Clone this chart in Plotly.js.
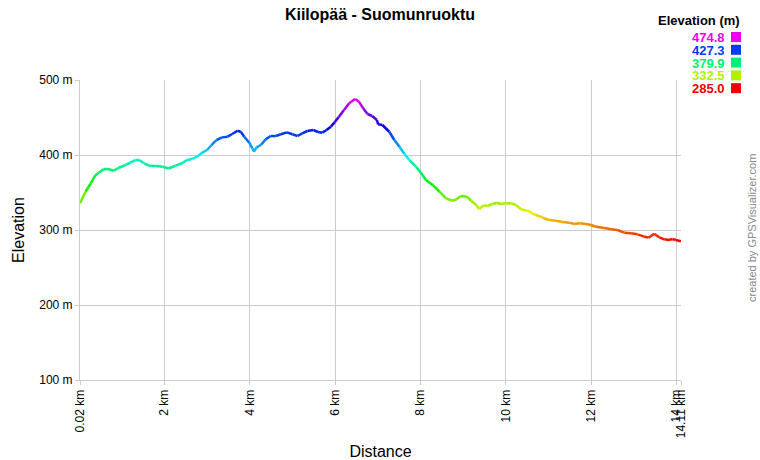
<!DOCTYPE html>
<html>
<head>
<meta charset="utf-8">
<script src="https://cdn.plot.ly/plotly-3.0.1.min.js"></script>
<style>html,body{margin:0;padding:0;background:#fff;}#chart{width:760px;height:460px;}</style>
</head>
<body>
<div id="chart"></div>
<script>
var distanceKm = [
  0.02, 0.15, 0.27, 0.38, 0.46, 0.58, 0.70, 0.81, 0.93, 1.09,
  1.20, 1.32, 1.41, 1.52, 1.63, 1.79, 1.96, 2.10, 2.26, 2.41,
  2.53, 2.65, 2.77, 2.88, 3.00, 3.10, 3.22, 3.35, 3.48, 3.59,
  3.71, 3.79, 3.87, 3.99, 4.06, 4.10, 4.16, 4.26, 4.37, 4.49,
  4.61, 4.73, 4.87, 5.00, 5.12, 5.23, 5.35, 5.49, 5.60, 5.70,
  5.80, 5.90, 5.99, 6.09, 6.21, 6.33, 6.47, 6.56, 6.66, 6.76,
  6.87, 6.98, 7.01, 7.11, 7.27, 7.39, 7.51, 7.62, 7.74, 7.90,
  8.02, 8.13, 8.29, 8.45, 8.60, 8.76, 8.85, 8.95, 9.09, 9.19,
  9.31, 9.38, 9.48, 9.58, 9.69, 9.79, 9.89, 10.01, 10.13, 10.24,
  10.36, 10.51, 10.66, 10.71, 10.87, 11.02, 11.18, 11.33, 11.49, 11.61,
  11.73, 11.88, 12.00, 12.12, 12.31, 12.47, 12.62, 12.78, 12.94, 13.09,
  13.25, 13.35, 13.48, 13.60, 13.72, 13.83, 13.91, 13.99, 14.11
];
var elevationM = [
  335.6, 351.0, 362.0, 373.0, 376.4, 381.3, 381.0, 379.0, 383.0, 386.7,
  389.8, 393.3, 393.3, 389.0, 385.8, 385.3, 384.4, 382.0, 385.8, 389.0,
  393.3, 394.7, 397.8, 403.0, 406.7, 413.0, 420.0, 423.5, 424.4, 428.0,
  432.4, 431.0, 424.4, 416.4, 408.9, 404.4, 410.2, 413.3, 420.9, 425.3,
  425.3, 427.6, 430.2, 427.6, 425.3, 428.9, 432.0, 433.3, 430.7, 429.8,
  433.3, 437.8, 443.6, 451.1, 460.0, 468.9, 474.8, 471.1, 462.2, 454.7,
  452.0, 446.7, 440.9, 440.0, 431.0, 420.0, 411.0, 402.0, 393.3, 384.4,
  375.6, 366.7, 360.0, 351.0, 342.2, 339.0, 341.0, 345.3, 344.4, 339.0,
  333.3, 328.0, 332.9, 332.0, 334.7, 336.4, 334.7, 335.6, 335.6, 333.3,
  327.6, 325.8, 321.0, 320.0, 316.4, 313.3, 312.4, 310.7, 309.8, 308.0,
  309.0, 308.0, 306.7, 304.4, 302.7, 300.9, 300.0, 296.4, 295.6, 294.2,
  291.1, 289.8, 295.1, 290.2, 287.6, 286.7, 288.0, 286.7, 285.0
];

// Axis ticks
var xTickVals = [0.02, 2, 4, 6, 8, 10, 12, 14, 14.11];
var xTickText = ["0.02 km", "2 km", "4 km", "6 km", "8 km", "10 km", "12 km", "14 km", "14.11 km"];
var yTickVals = [100, 200, 300, 400, 500];
var yTickText = ["100 m", "200 m", "300 m", "400 m", "500 m"];

// Colour legend
var legendValues = ["474.8", "427.3", "379.9", "332.5", "285.0"];
var elevMin = 285.0, elevMax = 474.8;

function colorFor(e) {
  var t = (e - elevMin) / (elevMax - elevMin);
  t = Math.max(0, Math.min(1, t));
  var h = 300 * t;
  return 'hsl(' + h.toFixed(1) + ',100%,47%)';
}

var traces = [];
for (var i = 0; i < distanceKm.length - 1; i++) {
  var avg = (elevationM[i] + elevationM[i + 1]) / 2;
  traces.push({
    type: 'scatter', mode: 'lines',
    x: [distanceKm[i], distanceKm[i + 1]],
    y: [elevationM[i], elevationM[i + 1]],
    line: {color: colorFor(avg), width: 2.5},
    hoverinfo: 'skip', showlegend: false
  });
}

var fontFam = '"Liberation Sans", Arial, Helvetica, sans-serif';
var W = 760, H = 460, L = 80, R = 79, T = 80, B = 80;
var pw = W - L - R, ph = H - T - B;
function px2x(p) { return (p - L) / pw; }
function py2y(p) { return 1 - (p - T) / ph; }

var annotations = [
  {text: '<b>Elevation (m)</b>', xref: 'paper', yref: 'paper', x: px2x(741), y: py2y(21),
   xanchor: 'right', yanchor: 'middle', showarrow: false, borderpad: 0,
   font: {family: fontFam, size: 13, color: '#000'}},
  {text: 'created by GPSVisualizer.com', xref: 'paper', yref: 'paper', x: px2x(752), y: py2y(228),
   xanchor: 'center', yanchor: 'middle', textangle: -90, showarrow: false,
   font: {family: fontFam, size: 11, color: '#888888'}}
];
var shapes = [];
var rowY0 = 37, rowStep = 12.8;
for (var k = 0; k < legendValues.length; k++) {
  var v = parseFloat(legendValues[k]);
  var c = colorFor(v);
  var yy = rowY0 + k * rowStep;
  annotations.push({text: '<b>' + legendValues[k] + '</b>', xref: 'paper', yref: 'paper',
    x: px2x(726), y: py2y(yy), xanchor: 'right', yanchor: 'middle', borderpad: 0, height: 12,
    showarrow: false, font: {family: fontFam, size: 13, color: c}});
  shapes.push({type: 'rect', xref: 'paper', yref: 'paper',
    x0: px2x(731), x1: px2x(741), y0: py2y(yy + 5), y1: py2y(yy - 5),
    fillcolor: c, line: {width: 0}});
}

var layout = {
  width: W, height: H,
  margin: {l: L, r: R, t: T, b: B, pad: 0},
  paper_bgcolor: '#ffffff', plot_bgcolor: '#ffffff',
  font: {family: fontFam, size: 12, color: '#000'},
  title: {text: '<b>Kiilopää - Suomunruoktu</b>', x: 0.5, xanchor: 'center', y: 1 - 14 / H, yanchor: 'middle',
          font: {family: fontFam, size: 16, color: '#000'}},
  xaxis: {
    range: [0.02, 14.11], tickmode: 'array', tickvals: xTickVals, ticktext: xTickText,
    tickangle: -90, showgrid: true, gridcolor: '#cccccc', gridwidth: 1,
    showline: true, linecolor: '#cccccc', linewidth: 1, mirror: false,
    ticks: 'outside', ticklen: 4, tickcolor: '#cccccc', zeroline: false,
    tickfont: {family: fontFam, size: 12, color: '#000'},
    title: {text: 'Distance', standoff: 8, font: {family: fontFam, size: 16, color: '#000'}},
    automargin: false, fixedrange: true
  },
  yaxis: {
    range: [100, 500], tickmode: 'array', tickvals: yTickVals, ticktext: yTickText,
    showgrid: true, gridcolor: '#cccccc', gridwidth: 1,
    showline: true, linecolor: '#cccccc', linewidth: 1,
    ticks: 'outside', ticklen: 4, tickcolor: '#cccccc', zeroline: false,
    tickfont: {family: fontFam, size: 12, color: '#000'},
    title: {text: 'Elevation', standoff: 10, font: {family: fontFam, size: 16, color: '#000'}},
    automargin: false, fixedrange: true
  },
  annotations: annotations,
  shapes: shapes,
  showlegend: false
};

Plotly.newPlot('chart', traces, layout, {displayModeBar: false, staticPlot: true});
</script>
</body>
</html>
